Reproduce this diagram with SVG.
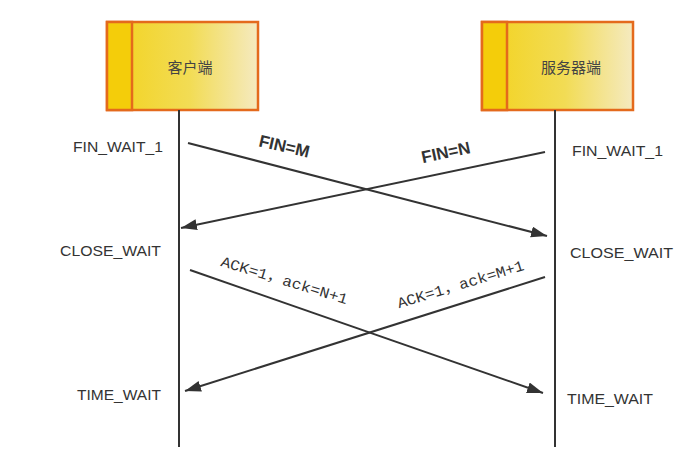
<svg xmlns="http://www.w3.org/2000/svg" width="695" height="454" viewBox="0 0 695 454">
<defs>
<linearGradient id="g" x1="0" y1="0" x2="1" y2="0">
<stop offset="0" stop-color="#F3D21C"/>
<stop offset="0.55" stop-color="#F2DC55"/>
<stop offset="1" stop-color="#F5EAC0"/>
</linearGradient>
<marker id="ah" markerUnits="userSpaceOnUse" markerWidth="18" markerHeight="12" refX="16" refY="5.5" orient="auto">
<path d="M0,0 L16,5.5 L0,11 Z" fill="#333"/>
</marker>
<style>
.box{fill:url(#g);stroke:#E46A1C;stroke-width:2.5}
.band{fill:#F4CD0A;stroke:#E46A1C;stroke-width:2.5}
.name{font-family:"Noto Sans CJK SC","Liberation Sans",sans-serif;font-size:15px;fill:#444;text-anchor:middle}
.st{font-family:"Liberation Sans",Arial,sans-serif;font-size:15px;fill:#333}
.life{stroke:#333;stroke-width:2;fill:none}
.msg{stroke:#333;stroke-width:2;fill:none;marker-end:url(#ah)}
.fin{font-family:"Liberation Sans",Arial,sans-serif;font-size:17px;font-weight:bold;fill:#333;text-anchor:middle}
.ack{font-family:"Liberation Mono","Noto Sans CJK SC",monospace;font-size:15px;fill:#333;text-anchor:middle}
</style>
</defs>
<rect width="695" height="454" fill="#fff"/>
<g id="client">
<rect class="box" x="107" y="22" width="151" height="88"/>
<rect class="band" x="107" y="22" width="25" height="88"/>
<text class="name" x="190" y="73">客户端</text>
</g>
<g id="server">
<rect class="box" x="482" y="22" width="151" height="88"/>
<rect class="band" x="482" y="22" width="25" height="88"/>
<text class="name" x="571" y="73">服务器端</text>
</g>
<g id="states-client" class="st">
<text x="73" y="152" textLength="90" lengthAdjust="spacingAndGlyphs">FIN_WAIT_1</text>
<text x="60" y="256" textLength="101" lengthAdjust="spacingAndGlyphs">CLOSE_WAIT</text>
<text x="77" y="400" textLength="84" lengthAdjust="spacingAndGlyphs">TIME_WAIT</text>
</g>
<g id="states-server" class="st">
<text x="572" y="156" textLength="91" lengthAdjust="spacingAndGlyphs">FIN_WAIT_1</text>
<text x="570" y="258" textLength="103" lengthAdjust="spacingAndGlyphs">CLOSE_WAIT</text>
<text x="567" y="404" textLength="86" lengthAdjust="spacingAndGlyphs">TIME_WAIT</text>
</g>
<g id="connectors">
<line class="life" x1="179" y1="110" x2="179" y2="447"/>
<line class="life" x1="555" y1="110" x2="555" y2="447"/>
<line class="msg" x1="188" y1="143" x2="547" y2="236"/>
<line class="msg" x1="545" y1="152" x2="181" y2="228"/>
<line class="msg" x1="190" y1="270" x2="543" y2="393"/>
<line class="msg" x1="545" y1="277" x2="185" y2="391"/>
</g>
<g id="labels">
<text class="fin" transform="translate(283,152) rotate(13)">FIN=M</text>
<text class="fin" transform="translate(447,158) rotate(-12)">FIN=N</text>
<text class="ack" transform="translate(283,285) rotate(17)" textLength="132" lengthAdjust="spacingAndGlyphs">ACK=1，ack=N+1</text>
<text class="ack" transform="translate(462,289) rotate(-17)" textLength="132" lengthAdjust="spacingAndGlyphs">ACK=1，ack=M+1</text>
</g>
</svg>
